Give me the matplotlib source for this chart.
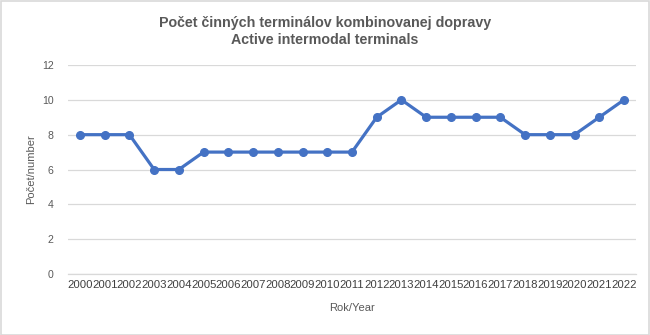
import matplotlib
matplotlib.use("Agg")
import matplotlib.pyplot as plt
from matplotlib.patches import Rectangle

years = [str(y) for y in range(2000, 2023)]
terminals = [8, 8, 8, 6, 6, 7, 7, 7, 7, 7, 7, 7, 9, 10, 9, 9, 9, 9, 8, 8, 8, 9, 10]
y_ticks = [0, 2, 4, 6, 8, 10, 12]

title = "Počet činných terminálov kombinovanej dopravy\nActive intermodal terminals"
x_label = "Rok/Year"
y_label = "Počet/number"

plt.rcParams["font.family"] = ["Liberation Sans", "DejaVu Sans"]
text_color = "#595959"
line_color = "#4472C4"
grid_color = "#D9D9D9"

fig = plt.figure(figsize=(6.5, 3.35), dpi=100)
ax = fig.add_axes([0.104, 0.182, 0.875, 0.624])

x = list(range(len(years)))
ax.plot(x, terminals, color=line_color, linewidth=2.3, marker="o",
        markersize=5.5, zorder=3)

ax.set_xlim(-0.5, len(years) - 0.5)
ax.set_ylim(0, 12)
ax.set_yticks(y_ticks)
ax.set_xticks(x)
ax.set_xticklabels(years)
ax.tick_params(axis="both", length=0, colors=text_color, labelsize=7.6)
ax.tick_params(axis="x", pad=4, labelsize=8.2, labelcolor="#404040")
ax.tick_params(axis="y", pad=10)

ax.grid(axis="y", color=grid_color, linewidth=0.9)
ax.set_axisbelow(True)
for side in ["top", "right", "left"]:
    ax.spines[side].set_visible(False)
ax.spines["bottom"].set_color(grid_color)
ax.spines["bottom"].set_linewidth(0.9)

ax.set_xlabel(x_label, color=text_color, fontsize=8, labelpad=10)
ax.set_ylabel(y_label, color=text_color, fontsize=8, labelpad=4)

fig.text(0.5, 0.905, title, ha="center", va="center", color=text_color,
         fontsize=10.3, fontweight="bold", linespacing=1.25)

fig.patches.append(Rectangle((0.001, 0.001), 0.997, 0.996, transform=fig.transFigure,
                             fill=False, edgecolor=grid_color, linewidth=1.2))

fig.savefig("out.png", dpi=100, facecolor="white")
